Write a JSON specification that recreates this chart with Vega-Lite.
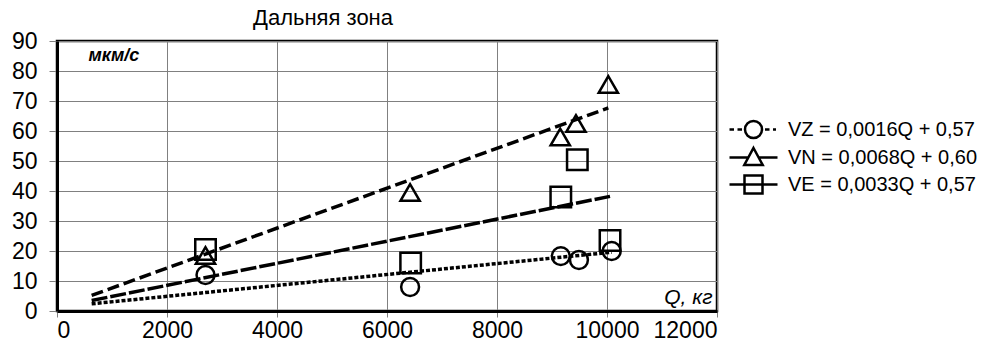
{
  "$schema": "https://vega.github.io/schema/vega-lite/v6.json",
  "width": 660,
  "height": 270,
  "autosize": {"type": "none"},
  "padding": {"left": 57, "top": 41, "right": 266, "bottom": 31},
  "background": "white",
  "title": {
    "text": "Дальняя зона",
    "font": "Liberation Sans",
    "fontSize": 22,
    "fontWeight": "normal",
    "color": "black",
    "anchor": "middle",
    "dx": -64,
    "offset": 0
  },
  "config": {
    "view": {"stroke": "black", "strokeWidth": 2.5},
    "axis": {
      "labelFont": "Liberation Sans",
      "labelFontSize": 23,
      "labelColor": "black",
      "gridColor": "#808080",
      "gridWidth": 1,
      "gridOpacity": 1,
      "tickColor": "#808080",
      "tickWidth": 1,
      "domainColor": "black",
      "domainWidth": 3
    }
  },
  "datasets": {
    "pts": [
      {"Q": 2700, "V": 12, "series": "VZ = 0,0016Q + 0,57"},
      {"Q": 6420, "V": 8, "series": "VZ = 0,0016Q + 0,57"},
      {"Q": 9160, "V": 18.3, "series": "VZ = 0,0016Q + 0,57"},
      {"Q": 9490, "V": 17, "series": "VZ = 0,0016Q + 0,57"},
      {"Q": 10085, "V": 20, "series": "VZ = 0,0016Q + 0,57"},
      {"Q": 2700, "V": 18.5, "series": "VN = 0,0068Q + 0,60"},
      {"Q": 6420, "V": 39.5, "series": "VN = 0,0068Q + 0,60"},
      {"Q": 9150, "V": 58, "series": "VN = 0,0068Q + 0,60"},
      {"Q": 9436, "V": 62.5, "series": "VN = 0,0068Q + 0,60"},
      {"Q": 10024, "V": 75.5, "series": "VN = 0,0068Q + 0,60"},
      {"Q": 2700, "V": 20.5, "series": "VE = 0,0033Q + 0,57"},
      {"Q": 6430, "V": 16, "series": "VE = 0,0033Q + 0,57"},
      {"Q": 9160, "V": 38, "series": "VE = 0,0033Q + 0,57"},
      {"Q": 9460, "V": 50.4, "series": "VE = 0,0033Q + 0,57"},
      {"Q": 10055, "V": 23.5, "series": "VE = 0,0033Q + 0,57"}
    ],
    "fit": [
      {"Q": 630, "V": 2.4, "series": "VZ = 0,0016Q + 0,57"},
      {"Q": 10085, "V": 19.6, "series": "VZ = 0,0016Q + 0,57"},
      {"Q": 630, "V": 5.2, "series": "VN = 0,0068Q + 0,60"},
      {"Q": 10024, "V": 67.7, "series": "VN = 0,0068Q + 0,60"},
      {"Q": 630, "V": 3.5, "series": "VE = 0,0033Q + 0,57"},
      {"Q": 10055, "V": 38.2, "series": "VE = 0,0033Q + 0,57"}
    ]
  },
  "layer": [
    {
      "data": {"name": "fit"},
      "mark": {"type": "line", "color": "black", "strokeWidth": 3.5, "strokeCap": "butt"},
      "encoding": {
        "x": {
          "field": "Q", "type": "quantitative",
          "scale": {"domain": [0, 12000], "nice": false},
          "axis": {
            "values": [0, 2000, 4000, 6000, 8000, 10000, 12000],
            "format": "d",
            "tickSize": 6,
            "labelPadding": 2,
            "labelOverlap": false,
            "title": "Q, кг",
            "titleFont": "Liberation Sans",
            "titleFontSize": 21,
            "titleFontStyle": "italic",
            "titleFontWeight": "normal",
            "titleColor": "black",
            "titleAlign": "right",
            "titleBaseline": "alphabetic",
            "titleAnchor": null,
            "titleX": 655,
            "titleY": -8
          }
        },
        "y": {
          "field": "V", "type": "quantitative",
          "scale": {"domain": [0, 90], "nice": false},
          "axis": {
            "values": [0, 10, 20, 30, 40, 50, 60, 70, 80, 90],
            "tickSize": 8,
            "labelPadding": 12,
            "labelOverlap": false,
            "labelSeparation": -20,
            "labelFlush": false,
            "labelBound": false,
            "labelBaseline": "middle",
            "labelLineHeight": 23,
            "title": "мкм/с",
            "titleFont": "Liberation Sans",
            "titleFontSize": 18,
            "titleFontStyle": "italic",
            "titleFontWeight": "bold",
            "titleColor": "black",
            "titleAngle": 0,
            "titleAlign": "left",
            "titleBaseline": "alphabetic",
            "titleAnchor": null,
            "titleX": 31,
            "titleY": 19
          }
        },
        "detail": {"field": "series"},
        "strokeDash": {
          "field": "series", "type": "nominal",
          "scale": {
            "domain": ["VZ = 0,0016Q + 0,57", "VN = 0,0068Q + 0,60", "VE = 0,0033Q + 0,57"],
            "range": [[4, 2], [12, 5], [16, 3]]
          },
          "legend": null
        }
      }
    },
    {
      "data": {"name": "pts"},
      "mark": {"type": "point", "filled": false, "color": "black", "strokeWidth": 2.5, "opacity": 1},
      "encoding": {
        "x": {"field": "Q", "type": "quantitative"},
        "y": {"field": "V", "type": "quantitative", "axis": {"values": [0, 10, 20, 30, 40, 50, 60, 70, 80, 90], "labelOverlap": false}},
        "shape": {
          "field": "series", "type": "nominal",
          "scale": {
            "domain": ["VZ = 0,0016Q + 0,57", "VN = 0,0068Q + 0,60", "VE = 0,0033Q + 0,57"],
            "range": ["circle", "triangle-up", "square"]
          },
          "legend": null
        },
        "size": {
          "field": "series", "type": "nominal",
          "scale": {
            "domain": ["VZ = 0,0016Q + 0,57", "VN = 0,0068Q + 0,60", "VE = 0,0033Q + 0,57"],
            "range": [320, 420, 330]
          },
          "legend": null
        }
      }
    },
    {
      "data": {"name": "fit"},
      "transform": [{"filter": "false"}],
      "mark": {"type": "point", "filled": false, "color": "black", "strokeWidth": 2.5, "opacity": 1, "size": 400},
      "encoding": {
        "shape": {
          "field": "series", "type": "nominal",
          "scale": {
            "domain": ["VZ = 0,0016Q + 0,57", "VN = 0,0068Q + 0,60", "VE = 0,0033Q + 0,57"],
            "range": [
              "M-2.4,0H-1.95M-1.6,0H-1.15M1.15,0H1.6M1.95,0H2.25M0.85,0A0.85,0.85,0,1,1,-0.85,0A0.85,0.85,0,1,1,0.85,0Z",
              "M-2.4,0H-0.55M0.55,0H2.4M0,-0.95L0.92,0.75L-0.92,0.75Z",
              "M-2.4,0H2.4M-0.9,-0.9H0.9V0.9H-0.9Z"
            ]
          },
          "legend": {
            "title": null,
            "orient": "none",
            "legendX": 685,
            "legendY": 77,
            "symbolSize": 400,
            "symbolStrokeWidth": 2.5,
            "symbolStrokeColor": "black",
            "symbolFillColor": "transparent",
            "labelFont": "Liberation Sans",
            "labelFontSize": 20,
            "labelColor": "black",
            "labelOffset": 23,
            "labelLimit": 300,
            "rowPadding": 0
          }
        }
      }
    }
  ],
  "resolve": {"scale": {"shape": "independent", "size": "independent"}, "legend": {"shape": "independent"}}
}
